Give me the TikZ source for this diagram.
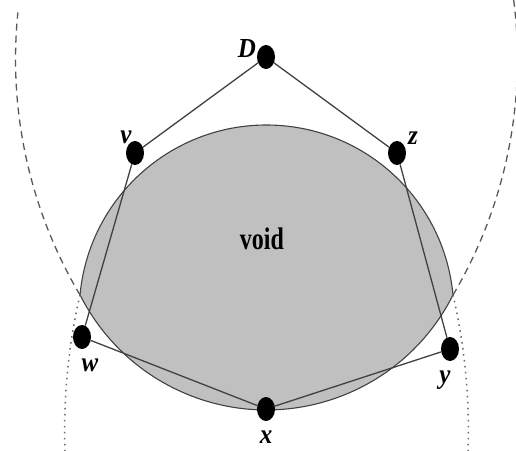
\documentclass[tikz,border=0pt]{standalone}
\usepackage{fontspec}
\setmainfont{Liberation Serif}
\usetikzlibrary{shapes.geometric}
\definecolor{lensgray}{RGB}{192,192,192}
\definecolor{linegray}{RGB}{65,65,65}
\begin{document}
\begin{tikzpicture}[x=1pt,y=1pt,
  vtx/.style={ellipse, fill=black, minimum width=18pt, minimum height=24pt, inner sep=0pt},
  lbl/.style={font=\fontsize{25}{28}\selectfont\bfseries\itshape, inner sep=0pt},
  edge/.style={draw=linegray, line width=1.3pt},
  bigdash/.style={draw=black!65, line width=1.3pt, dash pattern=on 7pt off 5pt},
  smalldot/.style={draw=black!60, line width=1.5pt, dash pattern=on 1.5pt off 4.5pt},
  lens/.style={fill=lensgray, draw=linegray, line width=1.1pt}]
\useasboundingbox (0,0) rectangle (516,450);
\begin{scope}
\clip (0,0) rectangle (516,450);
% void region (lens)
\path[lens] (80,155) arc[start angle=174.7, end angle=5.3, radius=187.3]
  arc[start angle=-26.7, end angle=-153.3, radius=208.7] -- cycle;
% dashed arcs
\draw[bigdash] (80,155) arc[start angle=210.6, end angle=174.2, radius=463];
\draw[bigdash] (453,155) arc[start angle=-30.6, end angle=8, radius=463];
% dotted arcs
\draw[smalldot] (80,155) arc[start angle=167, end angle=182, radius=600];
\draw[smalldot] (453,155) arc[start angle=13, end angle=-2, radius=600];
\end{scope}
% vertices
\node[vtx] (D) at (266,393) {};
\node[vtx] (v) at (135,297) {};
\node[vtx] (z) at (397,297) {};
\node[vtx] (w) at (82,113) {};
\node[vtx] (y) at (450,101) {};
\node[vtx] (x) at (266,41) {};
% edges
\draw[edge] (D) -- (v);
\draw[edge] (D) -- (z);
\draw[edge] (v) -- (w);
\draw[edge] (z) -- (y);
\draw[edge] (w) -- (x);
\draw[edge] (y) -- (x);
% labels
\node[lbl] (lD) at (247,401) {\scalebox{1}[1.1]{D}};
\node[lbl] (lv) at (126,313) {\scalebox{1}[1.1]{v}};
\node[lbl] (lz) at (413,312) {\scalebox{1}[1.1]{z}};
\node[lbl] (lw) at (90,85) {\scalebox{1}[1.1]{w}};
\node[lbl] (ly) at (445,70) {\scalebox{1}[1.1]{y}};
\node[lbl] (lx) at (266,13) {\scalebox{1}[1.1]{x}};
\node[font=\fontsize{24}{28}\selectfont\bfseries, inner sep=0pt] (void) at (262,211) {\scalebox{1}[1.3]{void}};
\end{tikzpicture}
\end{document}
